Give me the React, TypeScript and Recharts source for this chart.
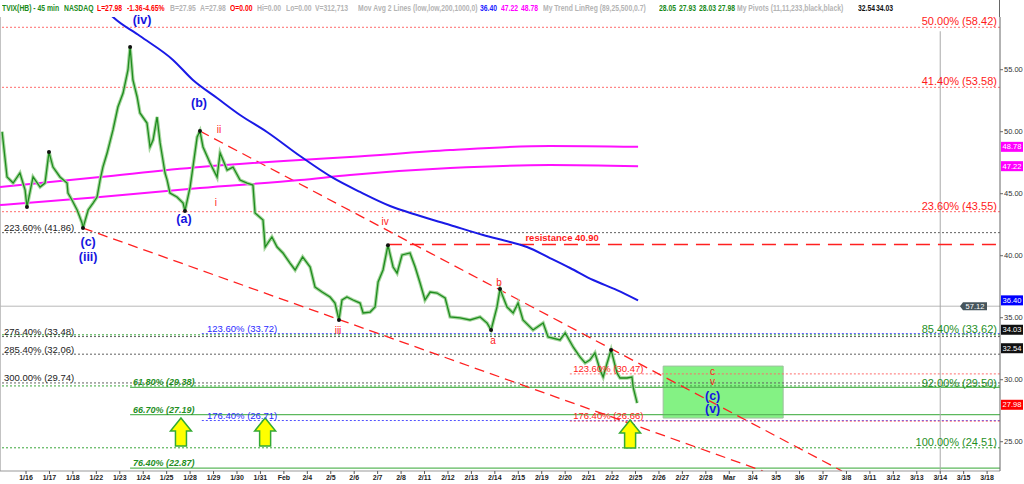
import React from 'react';
import {
  ComposedChart,
  Line,
  XAxis,
  YAxis,
  ReferenceLine,
  ReferenceArea,
  ReferenceDot,
} from 'recharts';

// x = trading day index, 0 = 1/16
const dayLabels = ['1/16', '1/17', '1/18', '1/22', '1/23', '1/24', '1/25', '1/28', '1/29', '1/30', '1/31', 'Feb', '2/4', '2/5', '2/6', '2/7', '2/8', '2/11', '2/12', '2/13', '2/14', '2/15', '2/19', '2/20', '2/21', '2/22', '2/25', '2/26', '2/27', '2/28', 'Mar', '3/4', '3/5', '3/6', '3/7', '3/8', '3/11', '3/12', '3/13', '3/14', '3/15', '3/18'];
const priceTicks = [25, 30, 35, 40, 45, 50, 55];

const barTimes = [-1.02, -0.81, -0.55, -0.26, -0.04, 0.04, 0.3, 0.6, 0.81, 0.98, 1.15, 1.45, 1.75, 1.79, 1.96, 2.18, 2.39, 2.43, 2.65, 2.86, 3.03, 3.16, 3.28, 3.46, 3.71, 3.92, 4.14, 4.35, 4.44, 4.56, 4.74, 4.86, 5.16, 5.29, 5.42, 5.59, 5.72, 5.84, 5.93, 6.02, 6.14, 6.44, 6.7, 6.78, 7.0, 7.12, 7.3, 7.42, 7.55, 7.85, 8.15, 8.28, 8.58, 8.83, 9.13, 9.43, 9.68, 9.77, 10.11, 10.2, 10.49, 10.71, 10.96, 11.26, 11.48, 11.65, 11.8, 12.12, 12.33, 12.63, 12.97, 13.18, 13.35, 13.48, 13.69, 13.95, 14.25, 14.38, 14.68, 14.89, 15.02, 15.23, 15.44, 15.66, 15.83, 16.04, 16.38, 16.6, 16.81, 17.02, 17.24, 17.53, 17.88, 18.09, 18.52, 18.94, 19.37, 19.67, 19.84, 20.09, 20.22, 20.52, 20.78, 20.99, 21.2, 21.63, 22.06, 22.27, 22.78, 23.0, 23.34, 23.63, 23.85, 24.06, 24.27, 24.49, 24.62, 24.79, 24.96, 25.21, 25.34, 25.64, 25.85, 25.9, 26.07];
const barCloses = [50.0, 46.35, 45.86, 46.67, 45.3, 43.93, 46.35, 45.54, 45.86, 48.36, 47.15, 46.35, 45.86, 45.06, 44.49, 43.69, 42.64, 42.23, 43.69, 44.25, 44.73, 46.1, 47.15, 48.28, 50.14, 51.99, 53.12, 54.98, 56.83, 54.17, 52.8, 51.51, 50.7, 48.77, 49.33, 51.19, 49.09, 47.72, 46.67, 46.1, 45.06, 44.73, 44.25, 43.61, 45.54, 47.15, 49.57, 50.05, 48.77, 47.48, 46.35, 48.28, 46.91, 47.15, 46.1, 45.86, 45.7, 43.44, 42.88, 40.7, 41.51, 40.7, 40.22, 39.41, 38.85, 39.41, 39.9, 39.09, 37.47, 37.07, 36.67, 36.18, 34.82, 36.43, 36.67, 36.43, 36.18, 35.38, 35.46, 35.86, 37.88, 38.85, 40.85, 39.09, 38.6, 40.06, 40.22, 39.09, 37.8, 36.43, 37.07, 36.99, 36.59, 35.06, 34.98, 34.82, 35.06, 34.57, 34.01, 35.86, 37.31, 35.86, 35.38, 36.18, 34.82, 34.01, 34.57, 33.45, 33.21, 33.77, 32.64, 31.84, 31.35, 31.6, 32.16, 30.79, 30.22, 31.35, 32.4, 30.55, 30.14, 30.14, 30.22, 29.41, 28.12];

const maTimes = [3.37, 3.71, 4.86, 6.27, 7.12, 8.15, 9.13, 10.28, 11.69, 13.1, 14.25, 15.53, 16.68, 18.09, 19.5, 20.65, 21.37, 22.35, 23.21, 24.19, 25.21, 26.11];
const maValues = [59.9, 59.25, 57.72, 55.79, 54.17, 52.72, 51.35, 49.98, 48.04, 46.27, 45.14, 44.01, 43.28, 42.48, 41.67, 41.1, 40.7, 39.81, 39.01, 38.04, 37.23, 36.4];

const linRegTimes = [-1.11, 3.16, 7.42, 11.69, 13.82, 18.09, 22.35, 26.11];
const linRegUpper = [45.54, 46.35, 47.15, 47.72, 47.96, 48.52, 48.85, 48.78];
const linRegLower = [44.09, 44.73, 45.46, 46.1, 46.51, 47.07, 47.31, 47.22];

const pivotTimes = [0.04, 0.98, 2.43, 4.44, 6.78, 7.42, 13.35, 15.44, 19.84, 20.22, 24.96];
const pivotValues = [43.93, 48.36, 42.23, 56.83, 43.61, 50.05, 34.82, 40.85, 34.01, 37.31, 32.4];

const redRightPct = ['50.00%', '41.40%', '23.60%'];
const redRightLevels = [58.42, 53.58, 43.55];
const greenRightPct = ['85.40%', '92.00%', '100.00%'];
const greenRightLevels = [33.62, 29.5, 24.51];
const blackLeftPct = ['223.60%', '276.40%', '285.40%', '300.00%'];
const blackLeftLevels = [41.86, 33.48, 32.06, 29.74];
const greenMidPct = ['61.80%', '66.70%', '76.40%'];
const greenMidLevels = [29.38, 27.19, 22.87];
const blueExtPct = ['123.60%', '176.40%'];
const blueExtLevels = [33.72, 26.71];
const redExtPct = ['123.60%', '176.40%'];
const redExtLevels = [30.47, 26.66];

const resistanceLevel = 40.9;
const grayLevel = 35.93;

const upperChannel = [{ x: 7.42, y: 50.05 }, { x: 34.81, y: 22.64 }];
const lowerChannel = [{ x: 2.43, y: 42.23 }, { x: 31.44, y: 22.64 }];

const blueWaveText = ['(iv)', '(b)', '(a)', '(c)', '(iii)', '(c)', '(v)'];
const blueWaveTimes = [4.95, 7.38, 6.74, 2.65, 2.65, 29.29, 29.29];
const blueWaveValues = [59.0, 52.31, 42.96, 41.13, 39.92, 28.69, 27.63];
const redWaveText = ['ii', 'i', 'iv', 'iii', 'a', 'b', 'c', 'v'];
const redWaveTimes = [8.23, 8.1, 15.32, 13.31, 19.92, 20.18, 29.29, 29.29];
const redWaveValues = [50.2, 44.27, 42.76, 34.01, 33.13, 37.88, 30.69, 29.82];

const arrowTimes = [6.61, 10.2, 25.77];
const arrowTips = [26.91, 26.91, 26.75];

const targetBox = { t1: 27.18, t2: 32.3, lo: 26.91, hi: 31.1 };

const badgeValues = [48.78, 47.22, 36.4, 34.03, 32.54, 27.98];
const badgeColors = ['#ff00ff', '#ff00ff', '#0000ff', '#111111', '#111111', '#ff0000'];

// header text pieces
const headerText = ['TVIX(HB) - 45 min', 'NASDAQ', 'L=27.98', '-1.36', '-4.65%', 'B=27.95', 'A=27.98', 'O=0.00', 'Hi=0.00', 'Lo=0.00', 'V=312,713', 'Mov Avg 2 Lines (low,low,200,1000,0)', '36.40', '47.22', '48.78', 'My Trend LinReg (89,25,500,0.7)', '28.05', '27.93', '28.03', '27.98', 'My Pivots (11,11,233,black,black)', '32.54', '34.03'];
const headerX = [2, 64, 97, 127, 143, 170, 200, 230, 257, 286, 315, 358, 480, 501, 521, 543, 659, 679, 699, 718, 737, 858, 876];
const headerColor = ['#1a8a1a', '#1a8a1a', '#ff0000', '#ff0000', '#ff0000', '#b4b4b4', '#b4b4b4', '#ff0000', '#b4b4b4', '#b4b4b4', '#b4b4b4', '#b4b4b4', '#2020ff', '#ff00ff', '#ff00ff', '#b4b4b4', '#1a8a1a', '#1a8a1a', '#1a8a1a', '#1a8a1a', '#b4b4b4', '#111', '#111'];

const X_MIN = -1.11;
const X_MAX = 41.55;
const Y_MIN = 22.64;
const Y_MAX = 59.25;

const toRows = (ts: number[], vs: number[]) => ts.map((t, i) => ({ t, v: vs[i] }));
const priceRows = toRows(barTimes, barCloses);
const maRows = toRows(maTimes, maValues);
const upperRows = toRows(linRegTimes, linRegUpper);
const lowerRows = toRows(linRegTimes, linRegLower);

const txt = (label: string, style: any) => (p: any) => (
  <text x={p.cx} y={p.cy} {...style}>{label}</text>
);

const RED = '#ff1a1a';
const GREEN_TXT = '#1f8f1f';
const BLUE_TXT = '#2b2bff';
const FONT = 'Arial, "Liberation Sans", sans-serif';

export default function App() {
  return (
    <div style={{ position: 'relative', width: 1024, height: 484, background: '#fff', fontFamily: FONT }}>
      <style>{'body{margin:0}'}</style>
      {headerText.map((s, i) => (
        <span
          key={'h' + i}
          style={{
            position: 'absolute',
            left: headerX[i],
            top: 3,
            fontSize: 8.5,
            lineHeight: '10px',
            fontWeight: 'bold',
            whiteSpace: 'nowrap',
            color: headerColor[i],
            transform: 'scaleX(0.8)',
            transformOrigin: 'left center',
          }}
        >
          {s}
        </span>
      ))}
      <div style={{ position: 'absolute', left: 999, top: 0, width: 1, height: 17, background: '#666' }} />
      <ComposedChart width={1024} height={484} margin={{ top: 17, right: 0, left: 0, bottom: 0 }} style={{ fontFamily: FONT }}>
        <XAxis
          type="number"
          dataKey="t"
          domain={[X_MIN, X_MAX]}
          allowDataOverflow
          ticks={dayLabels.map((_, i) => i)}
          interval={0}
          tickFormatter={(i) => dayLabels[i]}
          height={13}
          tickSize={3}
          tickMargin={1}
          tick={{ fontSize: 7, fontWeight: 'bold', fill: '#222' }}
          axisLine={{ stroke: '#999' }}
          tickLine={{ stroke: '#555' }}
        />
        <YAxis
          orientation="right"
          type="number"
          domain={[Y_MIN, Y_MAX]}
          allowDataOverflow
          ticks={priceTicks}
          width={24}
          tickSize={3}
          tickMargin={1}
          tickFormatter={(v) => v.toFixed(2)}
          tick={{ fontSize: 7.5, fill: '#333' }}
          axisLine={{ stroke: '#666' }}
          tickLine={{ stroke: '#666' }}
        />

        <ReferenceLine x={X_MIN} stroke="#888" />
        {redRightLevels.map((lv) => (
          <ReferenceLine key={'rr' + lv} y={lv} stroke="#ff6b6b" strokeDasharray="2 2" />
        ))}
        {greenRightLevels.map((lv) => (
          <ReferenceLine key={'gr' + lv} y={lv} stroke="#3aa63a" strokeDasharray="2 2" />
        ))}
        {blackLeftLevels.map((lv) => (
          <ReferenceLine key={'bl' + lv} y={lv} stroke="#606060" strokeDasharray="2 2" />
        ))}
        {greenMidLevels.map((lv) => (
          <ReferenceLine key={'gm' + lv} segment={[{ x: 4.44, y: lv }, { x: X_MAX, y: lv }]} stroke="#5cb85c" strokeWidth={1.2} />
        ))}
        {blueExtLevels.map((lv) => (
          <ReferenceLine key={'be' + lv} segment={[{ x: 7.5, y: lv }, { x: X_MAX, y: lv }]} stroke="#5050ff" strokeDasharray="2 2" />
        ))}
        {redExtLevels.map((lv) => (
          <ReferenceLine key={'re' + lv} segment={[{ x: 23.2, y: lv }, { x: X_MAX, y: lv }]} stroke="#ff6b6b" strokeDasharray="2 2" />
        ))}
        <ReferenceLine y={grayLevel} stroke="#b8b8b8" />
        <ReferenceLine segment={[{ x: 39, y: 58.1 }, { x: 39, y: Y_MIN }]} stroke="#aaa" />

        <ReferenceArea x1={targetBox.t1} x2={targetBox.t2} y1={targetBox.lo} y2={targetBox.hi} fill="#6ef06e" fillOpacity={0.85} stroke="#9fbf9f" />

        <ReferenceLine segment={[{ x: 15.44, y: resistanceLevel }, { x: X_MAX, y: resistanceLevel }]} stroke="#ff2020" strokeWidth={1.6} strokeDasharray="14 8" />
        <ReferenceLine segment={upperChannel} stroke="#ff2020" strokeWidth={1.3} strokeDasharray="10 6" ifOverflow="hidden" />
        <ReferenceLine segment={lowerChannel} stroke="#ff2020" strokeWidth={1.3} strokeDasharray="10 6" ifOverflow="hidden" />

        <Line data={upperRows} dataKey="v" type="monotone" stroke="#ff10ff" strokeWidth={2} dot={false} isAnimationActive={false} />
        <Line data={lowerRows} dataKey="v" type="monotone" stroke="#ff10ff" strokeWidth={2} dot={false} isAnimationActive={false} />
        <Line data={maRows} dataKey="v" type="monotone" stroke="#1a1ae6" strokeWidth={2} dot={false} isAnimationActive={false} />
        <Line data={priceRows} dataKey="v" type="linear" stroke="#a6d69e" strokeWidth={3.5} dot={false} isAnimationActive={false} />
        <Line data={priceRows} dataKey="v" type="linear" stroke="#1e8c1e" strokeWidth={1.3} dot={false} isAnimationActive={false} />

        {pivotTimes.map((t, i) => (
          <ReferenceDot key={'pv' + i} x={t} y={pivotValues[i]} r={2} fill="#111" stroke="none" />
        ))}

        {arrowTimes.map((t, i) => (
          <ReferenceDot
            key={'ar' + i}
            x={t}
            y={arrowTips[i]}
            shape={(p: any) => (
              <polygon
                points={`${p.cx},${p.cy} ${p.cx + 10.5},${p.cy + 13} ${p.cx + 5.5},${p.cy + 13} ${p.cx + 5.5},${p.cy + 28} ${p.cx - 5.5},${p.cy + 28} ${p.cx - 5.5},${p.cy + 13} ${p.cx - 10.5},${p.cy + 13}`}
                fill="#ffff00"
                stroke="#33aa33"
                strokeWidth={1.5}
              />
            )}
          />
        ))}

        {redRightLevels.map((lv, i) => (
          <ReferenceDot key={'rrt' + i} x={41.42} y={lv} shape={txt(`${redRightPct[i]} (${lv.toFixed(2)})`, { textAnchor: 'end', dy: -2, fill: RED, fontSize: 11 })} />
        ))}
        {greenRightLevels.map((lv, i) => (
          <ReferenceDot key={'grt' + i} x={41.42} y={lv} shape={txt(`${greenRightPct[i]} (${lv.toFixed(2)})`, { textAnchor: 'end', dy: i === 1 ? 1.5 : -2, fill: GREEN_TXT, fontSize: 11 })} />
        ))}
        {blackLeftLevels.map((lv, i) => (
          <ReferenceDot key={'blt' + i} x={-0.94} y={lv} shape={txt(`${blackLeftPct[i]} (${lv.toFixed(2)})`, { dy: -1.5, fill: '#222', fontSize: 9.5 })} />
        ))}
        {greenMidLevels.map((lv, i) => (
          <ReferenceDot key={'gmt' + i} x={4.56} y={lv} shape={txt(`${greenMidPct[i]} (${lv.toFixed(2)})`, { dy: -2, fill: GREEN_TXT, fontSize: 9, fontWeight: 'bold', fontStyle: 'italic' })} />
        ))}
        {blueExtLevels.map((lv, i) => (
          <ReferenceDot key={'bet' + i} x={7.72} y={lv} shape={txt(`${blueExtPct[i]} (${lv.toFixed(2)})`, { dy: -2, fill: BLUE_TXT, fontSize: 9.5 })} />
        ))}
        {redExtLevels.map((lv, i) => (
          <ReferenceDot key={'ret' + i} x={23.34} y={lv} shape={txt(`${redExtPct[i]} (${lv.toFixed(2)})`, { dy: -2, fill: RED, fontSize: 9.5 })} />
        ))}
        <ReferenceDot x={22.87} y={41.43} shape={txt(`resistance ${resistanceLevel.toFixed(2)}`, { textAnchor: 'middle', dominantBaseline: 'central', fill: RED, fontSize: 9.5, fontWeight: 'bold' })} />

        {blueWaveText.map((s, i) => (
          <ReferenceDot key={'bw' + i} x={blueWaveTimes[i]} y={blueWaveValues[i]} shape={txt(s, { textAnchor: 'middle', dominantBaseline: 'central', fill: '#1515e0', fontSize: 12.5, fontWeight: 'bold' })} />
        ))}
        {redWaveText.map((s, i) => (
          <ReferenceDot key={'rw' + i} x={redWaveTimes[i]} y={redWaveValues[i]} shape={txt(s, { textAnchor: 'middle', dominantBaseline: 'central', fill: RED, fontSize: 10 })} />
        ))}

        <ReferenceDot
          x={40.44}
          y={grayLevel}
          shape={(p: any) => (
            <g>
              <polygon points={`${p.cx - 14},${p.cy} ${p.cx - 11},${p.cy - 4} ${p.cx + 13},${p.cy - 4} ${p.cx + 13},${p.cy + 4} ${p.cx - 11},${p.cy + 4}`} fill="#46555c" />
              <text x={p.cx + 1} y={p.cy} textAnchor="middle" dominantBaseline="central" fill="#fff" fontSize={7.5}>57.12</text>
            </g>
          )}
        />
        {badgeValues.map((b, i) => (
          <ReferenceDot
            key={'bd' + i}
            x={X_MAX}
            y={b}
            shape={(p: any) => (
              <g>
                <rect x={p.cx + 1} y={p.cy - 5} width={22} height={10} fill={badgeColors[i]} />
                <text x={p.cx + 12} y={p.cy} textAnchor="middle" dominantBaseline="central" fill="#fff" fontSize={7.5}>{b.toFixed(2)}</text>
              </g>
            )}
          />
        ))}
      </ComposedChart>
    </div>
  );
}
